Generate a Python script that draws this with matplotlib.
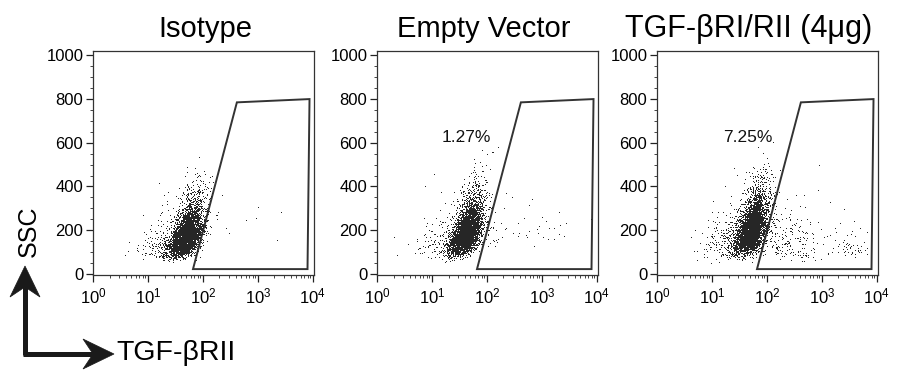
import numpy as np
import matplotlib
matplotlib.use("Agg")
import matplotlib.pyplot as plt
from matplotlib.lines import Line2D
from matplotlib.patches import Polygon

plt.rcParams['font.family'] = ['Liberation Sans', 'DejaVu Sans']
plt.rcParams['mathtext.fontset'] = 'custom'
plt.rcParams['mathtext.rm'] = 'Liberation Sans'
plt.rcParams['mathtext.it'] = 'Liberation Sans:italic'
plt.rcParams['mathtext.bf'] = 'Liberation Sans:bold'

# ---------------- data ----------------
titles = ["Isotype", "Empty Vector", "TGF-\u03b2RI/RII (4\u03bcg)"]
gate_pct_labels = ["", "1.27%", "7.25%"]
gate_label_x = [43, 43, 45]
gate_label_y = [625, 625, 625]

# gate polygon vertices (x in FL units, y in SSC units)
gate_x = [66, 415, 8700, 8000]
gate_y = [22, 785, 800, 22]

y_ticks = [0, 200, 400, 600, 800, 1000]
y_tick_labels = ["0", "200", "400", "600", "800", "1000"]
x_ticks = [1, 10, 100, 1000, 10000]
x_tick_labels = [r"$\mathregular{10^{0}}$", r"$\mathregular{10^{1}}$", r"$\mathregular{10^{2}}$",
                 r"$\mathregular{10^{3}}$", r"$\mathregular{10^{4}}$"]

# event populations per panel (log10 of fluorescence, SSC median etc.)
core_n = [3800, 3700, 3500]
core_logx_mean = [1.70, 1.63, 1.72]
core_logx_sd = [0.15, 0.15, 0.15]
core_ssc_median = [170, 185, 200]
core_logssc_sd = [0.36, 0.36, 0.35]
core_corr = [0.55, 0.55, 0.5]

halo_n = [320, 320, 340]
halo_logx_mean = [1.45, 1.40, 1.45]
halo_logx_sd = [0.30, 0.32, 0.32]
halo_ssc_median = [150, 160, 170]
halo_logssc_sd = [0.40, 0.40, 0.40]

gateA_n = [8, 40, 230]
gateA_logx_mean = [2.4, 2.45, 2.35]
gateA_logx_sd = [0.40, 0.40, 0.38]
gateA_ssc_median = [210, 200, 150]
gateA_logssc_sd = [0.25, 0.30, 0.42]

gateB_n = [2, 4, 55]
gateB_logx_mean = [3.2, 3.3, 3.5]
gateB_logx_sd = [0.15, 0.15, 0.2]
gateB_ssc_median = [200, 240, 125]
gateB_logssc_sd = [0.2, 0.2, 0.3]

rng = np.random.default_rng(11)


def population(n, mx, sx, my, sy, rho=0.0):
    z1 = rng.standard_normal(n)
    z2 = rng.standard_normal(n)
    lx = mx + sx * z1
    ly = np.log(my) + sy * (rho * z1 + np.sqrt(1 - rho ** 2) * z2)
    return 10 ** lx, np.exp(ly)


# ---------------- figure ----------------
W, H = 908, 370
fig = plt.figure(figsize=(W / 100, H / 100), dpi=100)

ax_left_px = [93, 377, 657]
ax_w_px = 221
ax_top_px = 51
ax_bot_px = 275

for i in range(3):
    ax = fig.add_axes([ax_left_px[i] / W, 1 - ax_bot_px / H, ax_w_px / W, (ax_bot_px - ax_top_px) / H])
    ax.set_xscale('log')
    ax.set_xlim(1, 1.05e4)
    ax.set_ylim(-5, 1020)
    xs, ys = [], []
    for (n, mx, sx, my, sy, r) in [
        (core_n[i], core_logx_mean[i], core_logx_sd[i], core_ssc_median[i], core_logssc_sd[i], core_corr[i]),
        (halo_n[i], halo_logx_mean[i], halo_logx_sd[i], halo_ssc_median[i], halo_logssc_sd[i], 0.3),
        (gateA_n[i], gateA_logx_mean[i], gateA_logx_sd[i], gateA_ssc_median[i], gateA_logssc_sd[i], 0.0),
        (gateB_n[i], gateB_logx_mean[i], gateB_logx_sd[i], gateB_ssc_median[i], gateB_logssc_sd[i], 0.0),
    ]:
        x, y = population(n, mx, sx, my, sy, r)
        xs.append(x)
        ys.append(y)
    x = np.concatenate(xs)
    y = np.concatenate(ys)
    keep = (x > 1) & (x < 1e4) & (y > 40) & (y < 1000)
    ax.plot(x[keep], y[keep], linestyle='none', marker=',', color='#262626')

    ax.add_patch(Polygon(list(zip(gate_x, gate_y)), closed=True, fill=False,
                         edgecolor='#333333', linewidth=1.4, joinstyle='miter'))

    ax.set_xticks(x_ticks)
    ax.set_xticklabels(x_tick_labels, fontsize=12)
    ax.set_yticks(y_ticks)
    ax.set_yticklabels(y_tick_labels, fontsize=12)
    ax.set_yticks(np.arange(0, 1001, 50), minor=True)
    ax.tick_params(axis='both', which='major', direction='out', length=5, width=0.9,
                   color='#222222', pad=2, top=False, right=False)
    ax.tick_params(axis='both', which='minor', direction='out', length=2.5, width=0.7,
                   color='#444444', top=False, right=False)
    ax.tick_params(axis='x', which='major', pad=3)
    for sp in ax.spines.values():
        sp.set_linewidth(0.9)
        sp.set_color('#333333')
    if gate_pct_labels[i]:
        ax.text(gate_label_x[i], gate_label_y[i], gate_pct_labels[i], fontsize=12.5,
                ha='center', va='center', color='#111111')

# titles
title_cx_px = [205, 484, 749]
title_size = [21, 21, 22]
for i in range(3):
    fig.text(title_cx_px[i] / W, 1 - 37 / H, titles[i], fontsize=title_size[i], ha='center', va='baseline')

# axis-direction arrows
def fx(px):
    return px / W


def fy(py):
    return 1 - py / H


lw = 3.6
fig.add_artist(Line2D([fx(25), fx(25)], [fy(355), fy(286)], color='#1a1a1a', lw=lw,
                      solid_capstyle='butt', transform=fig.transFigure))
fig.add_artist(Line2D([fx(23.2), fx(95)], [fy(354), fy(354)], color='#1a1a1a', lw=lw,
                      solid_capstyle='butt', transform=fig.transFigure))
head_v = [(25, 266), (40, 297), (25, 287), (10, 297)]
head_h = [(114, 354), (83, 339), (93, 354), (83, 369)]
for head in (head_v, head_h):
    fig.add_artist(Polygon([(fx(a), fy(b)) for a, b in head], closed=True, facecolor='#1a1a1a',
                           edgecolor='#1a1a1a', linewidth=0.5, transform=fig.transFigure))

fig.text(fx(29), fy(231), "SSC", fontsize=18, rotation=90, ha='center', va='center')
fig.text(fx(116), fy(353), "TGF-\u03b2RII", fontsize=20.5, ha='left', va='center')

fig.savefig("out.png", dpi=100)
